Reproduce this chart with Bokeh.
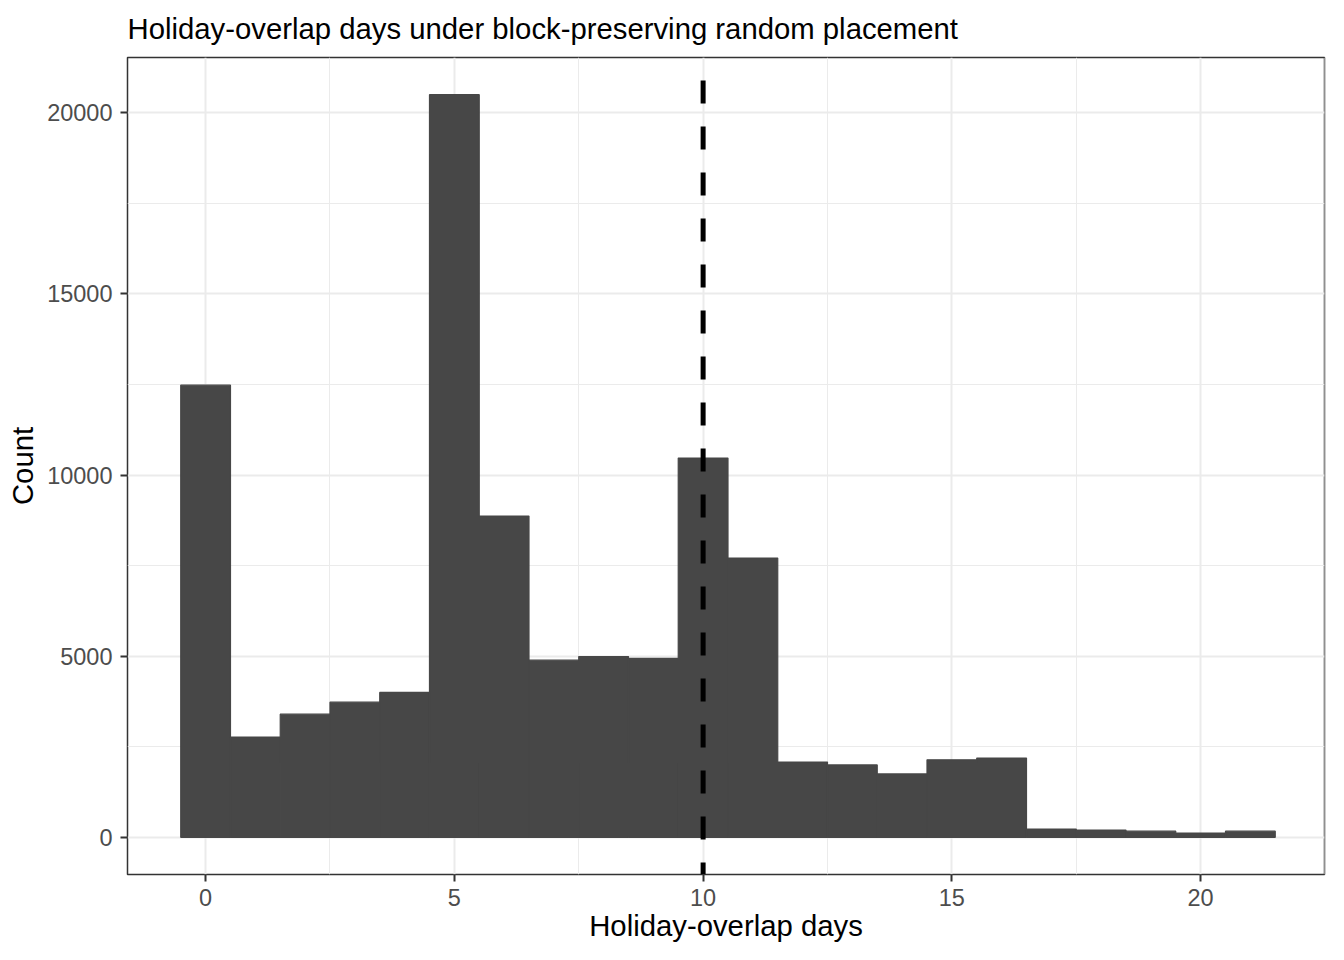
from bokeh.plotting import figure
from bokeh.models import Range1d, Span, FixedTicker
from bokeh.embed import file_html
from bokeh.resources import INLINE

# ---- data (binwidth 1, centred on integers) ----
overlap_days = [0, 1, 2, 3, 4, 5, 6, 7, 8, 9, 10, 11, 12, 13, 14, 15, 16, 17, 18, 19, 20, 21]
counts = [12480, 2770, 3400, 3730, 4000, 20500, 8870, 4890, 4990, 4940, 10470,
          7710, 2080, 2000, 1750, 2140, 2190, 230, 200, 170, 120, 170]
observed_overlap = 10
x_major_ticks = [0, 5, 10, 15, 20]
x_minor_ticks = [2.5, 7.5, 12.5, 17.5, 22.5]
y_major_ticks = [0, 5000, 10000, 15000, 20000]
y_minor_ticks = [2500, 7500, 12500, 17500]

title_text = "Holiday-overlap days under block-preserving random placement"
x_title = "Holiday-overlap days"
y_title = "Count"

FONT = "Liberation Sans"
W, H = 1328, 944
BL, BR, BT, BB = 127, 4, 57, 70

p = figure(width=W, height=H, output_backend="svg", toolbar_location=None,
           x_range=Range1d(-1.57, 22.49), y_range=Range1d(-1025, 21525),
           min_border_left=BL, min_border_right=BR, min_border_top=BT,
           min_border_bottom=BB, title=title_text)

p.background_fill_color = "white"
p.border_fill_color = "white"
p.outline_line_color = "#333333"
p.outline_line_width = 1.5

# title
p.title.text_font = FONT
p.title.text_font_size = "29.3px"
p.title.text_font_style = "normal"
p.title.text_color = "black"
p.title.align = "left"
p.title.vertical_align = "top"
p.title.standoff = 22

# bars
half = 0.5
p.quad(left=[d - half for d in overlap_days], right=[d + half for d in overlap_days],
       bottom=[0] * len(counts), top=counts,
       fill_color="#474747", line_color="#474747", line_width=1.2)

# observed line
p.add_layout(Span(location=observed_overlap, dimension="height", line_color="black",
                  line_width=5, line_dash="23 23", line_dash_offset=23))

# grids
p.xaxis.ticker = FixedTicker(ticks=x_major_ticks, minor_ticks=x_minor_ticks)
p.yaxis.ticker = FixedTicker(ticks=y_major_ticks, minor_ticks=y_minor_ticks)
for g in (p.xgrid, p.ygrid):
    g.grid_line_color = "#EBEBEB"
    g.grid_line_width = 2
    g.minor_grid_line_color = "#EBEBEB"
    g.minor_grid_line_width = 1

# axes
for ax in (p.xaxis, p.yaxis):
    ax.axis_line_color = None
    ax.major_tick_line_color = "#333333"
    ax.major_tick_line_width = 2
    ax.major_tick_out = 7
    ax.major_tick_in = 0
    ax.minor_tick_line_color = None
    ax.major_label_text_font = FONT
    ax.major_label_text_font_size = "23.5px"
    ax.major_label_text_color = "#4D4D4D"
    ax.axis_label_text_font = FONT
    ax.axis_label_text_font_size = "29.3px"
    ax.axis_label_text_font_style = "normal"
    ax.axis_label_text_color = "black"

p.xaxis.axis_label = x_title
p.yaxis.axis_label = y_title
p.xaxis.major_label_standoff = 7
p.xaxis.axis_label_standoff = 0
p.yaxis.major_label_standoff = 8
p.yaxis.axis_label_standoff = 5

open("out.html", "w").write(file_html(p, INLINE))
